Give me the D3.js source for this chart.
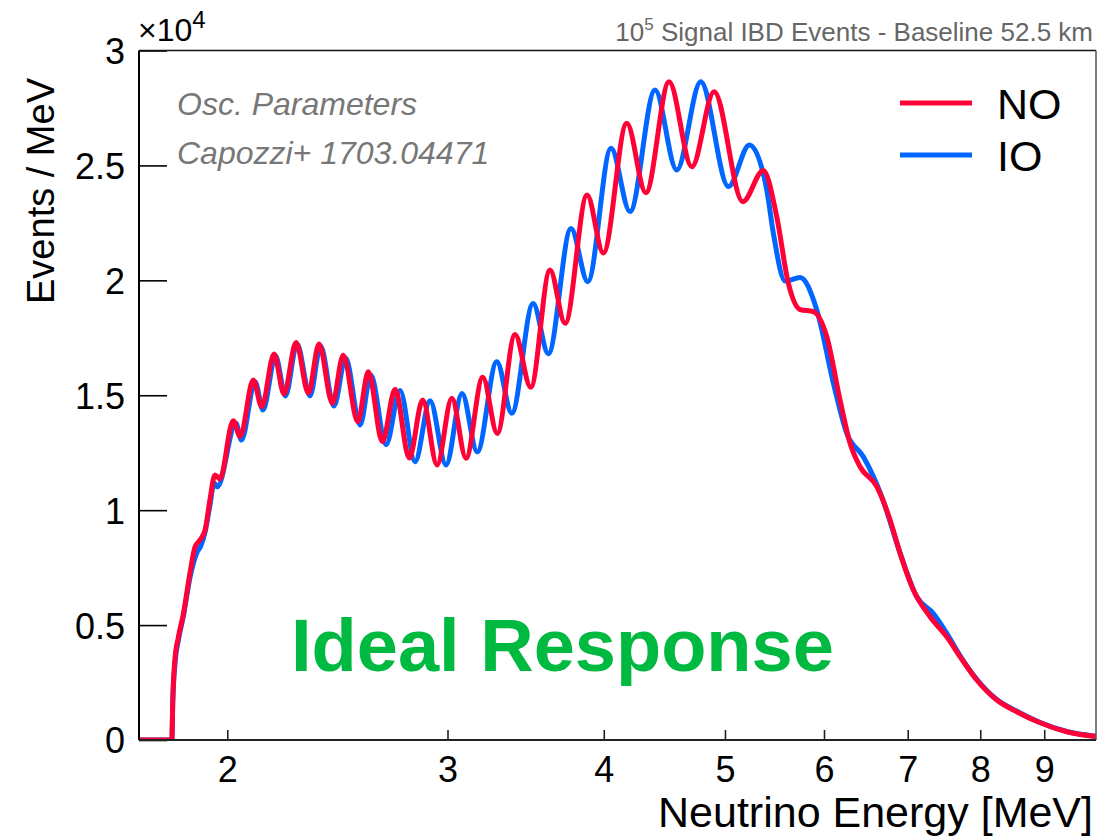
<!DOCTYPE html>
<html>
<head>
<meta charset="utf-8">
<script src="https://cdn.jsdelivr.net/npm/d3@7"></script>
<style>
  html, body { margin: 0; padding: 0; background: #fff; }
  svg { display: block; }
  text { font-family: "Liberation Sans", Arial, Helvetica, sans-serif; }
</style>
</head>
<body>
<svg id="chart" width="1101" height="839"></svg>
<script>
// ---------------- DATA ----------------
// Neutrino energy [MeV] and events per MeV in units of 10^4
const no_energy = [1.70,1.806,1.809,1.816,1.828,1.845,1.867,1.885,1.902,1.920,1.937,1.955,1.973,
  2.022,2.048,2.098,2.131,2.180,2.220,2.270,2.322,2.368,2.427,2.476,2.543,2.593,2.661,2.724,2.796,
  2.866,2.943,3.024,3.104,3.201,3.288,3.397,3.497,3.623,3.725,3.879,3.997,4.173,4.322,4.511,4.704,
  4.901,5.167,5.366,5.500,5.619,5.742,5.884,6.031,6.180,6.295,6.412,6.613,6.776,6.902,7.073,7.294,
  7.522,7.709,7.949,8.247,8.557,8.932,9.382,9.90];
const no_events = [0,0,0.17,0.348,0.449,0.551,0.725,0.841,0.870,0.914,1.044,1.153,1.136,
  1.389,1.320,1.566,1.450,1.680,1.505,1.729,1.509,1.723,1.465,1.674,1.385,1.602,1.298,1.526,1.227,
  1.479,1.197,1.487,1.226,1.578,1.334,1.764,1.535,2.045,1.813,2.371,2.119,2.683,2.381,2.864,2.494,
  2.821,2.342,2.478,2.277,1.987,1.873,1.864,1.755,1.479,1.291,1.189,1.102,0.957,0.812,0.653,0.536,
  0.449,0.362,0.261,0.174,0.123,0.075,0.036,0.015];

const io_energy = [1.70,1.806,1.809,1.817,1.828,1.845,1.867,1.891,1.905,1.920,1.937,1.952,1.964,
  2.032,2.053,2.105,2.136,2.186,2.226,2.274,2.329,2.375,2.434,2.487,2.554,2.605,2.679,2.749,2.826,
  2.905,2.992,3.081,3.169,3.285,3.377,3.512,3.612,3.766,3.884,4.054,4.198,4.396,4.575,4.782,5.032,
  5.230,5.400,5.466,5.585,5.742,5.921,6.105,6.257,6.451,6.674,6.902,7.118,7.339,7.522,7.709,7.949,
  8.247,8.557,8.932,9.382,9.90];
const io_events = [0,0,0.16,0.34,0.435,0.54,0.705,0.814,0.845,0.905,1.02,1.118,1.102,
  1.378,1.305,1.559,1.436,1.671,1.497,1.723,1.497,1.714,1.453,1.662,1.371,1.588,1.285,1.521,1.211,
  1.476,1.197,1.508,1.254,1.646,1.422,1.899,1.681,2.226,1.994,2.575,2.299,2.828,2.480,2.864,2.408,
  2.589,2.393,2.205,1.997,2.012,1.871,1.552,1.334,1.232,1.058,0.814,0.623,0.550,0.464,0.366,0.264,
  0.176,0.125,0.076,0.037,0.016];

const xTicks = [2, 3, 4, 5, 6, 7, 8, 9];
const yTicks = [0, 0.5, 1, 1.5, 2, 2.5, 3];
const seriesNames = ["NO", "IO"];
const seriesColors = ["#ff0037", "#0066ff"];

// ---------------- LAYOUT ----------------
const L = 139, R = 1096, T = 50.5, B = 740;
const svg = d3.select("#chart");

const x = d3.scaleLog().domain([1.7, 9.9]).range([L, R]);
const y = d3.scaleLinear().domain([0, 3]).range([B, T]);

// clip
svg.append("defs").append("clipPath").attr("id", "clip")
  .append("rect").attr("x", L).attr("y", T - 5).attr("width", R - L).attr("height", B - T + 5);

// axes
const xAxis = d3.axisBottom(x).tickValues(xTicks).tickFormat(d3.format("d"))
  .tickSizeInner(-10).tickSizeOuter(0).tickPadding(16);
const gx = svg.append("g").attr("transform", `translate(0,${B})`).call(xAxis);
gx.select(".domain").remove();
gx.selectAll(".tick line").attr("stroke", "#222").attr("stroke-width", 1.6);
gx.selectAll(".tick text").attr("font-size", 36).attr("fill", "#000")
  .style("font-family", '"Liberation Sans", Arial, sans-serif');

const yAxis = d3.axisLeft(y).tickValues(yTicks).tickFormat(d => String(d))
  .tickSizeInner(-28).tickSizeOuter(0).tickPadding(14);
const gy = svg.append("g").attr("transform", `translate(${L},0)`).call(yAxis);
gy.select(".domain").remove();
gy.selectAll(".tick line").attr("stroke", "#000").attr("stroke-width", 1.6);
gy.selectAll(".tick text").attr("font-size", 36).attr("fill", "#000").attr("dy", "0.36em")
  .style("font-family", '"Liberation Sans", Arial, sans-serif');

// curves
const line = d3.line().x(d => x(d[0])).y(d => y(d[1])).curve(d3.curveMonotoneX);
const ioData = io_energy.map((e, i) => [e, io_events[i]]);
const noData = no_energy.map((e, i) => [e, no_events[i]]);
const gc = svg.append("g").attr("clip-path", "url(#clip)");
gc.append("path").datum(ioData).attr("d", line).attr("fill", "none")
  .attr("stroke", seriesColors[1]).attr("stroke-width", 5).attr("stroke-linejoin", "round");
gc.append("path").datum(noData).attr("d", line).attr("fill", "none")
  .attr("stroke", seriesColors[0]).attr("stroke-width", 5).attr("stroke-linejoin", "round");

// frame
svg.append("line").attr("x1", L).attr("x2", R).attr("y1", T).attr("y2", T).attr("stroke", "#111").attr("stroke-width", 1.5);
svg.append("line").attr("x1", R).attr("x2", R).attr("y1", T).attr("y2", B).attr("stroke", "#555").attr("stroke-width", 1.5);
svg.append("line").attr("x1", L).attr("x2", R).attr("y1", B).attr("y2", B).attr("stroke", "#222").attr("stroke-width", 2);
svg.append("line").attr("x1", L).attr("x2", L).attr("y1", T).attr("y2", B).attr("stroke", "#000").attr("stroke-width", 2);

// axis titles
svg.append("text").attr("x", 1093).attr("y", 827).attr("text-anchor", "end")
  .attr("font-size", 43).text("Neutrino Energy [MeV]");
svg.append("text").attr("transform", "translate(54,78) rotate(-90)").attr("text-anchor", "end")
  .attr("font-size", 38).text("Events / MeV");

// exponent
const ex = svg.append("text").attr("x", 138).attr("y", 41).attr("font-size", 32);
ex.append("tspan").text("×10");
ex.append("tspan").attr("font-size", 24).attr("dy", -13).text("4");

// top right label
const tr = svg.append("text").attr("x", 1093).attr("y", 41).attr("text-anchor", "end")
  .attr("font-size", 26).attr("fill", "#666");
tr.append("tspan").text("10");
tr.append("tspan").attr("font-size", 17).attr("dy", -11).text("5");
tr.append("tspan").attr("dy", 11).text(" Signal IBD Events - Baseline 52.5 km");

// osc params
svg.append("text").attr("x", 177).attr("y", 115).attr("font-size", 32).attr("font-style", "italic")
  .attr("fill", "#777").text("Osc. Parameters");
svg.append("text").attr("x", 177).attr("y", 164).attr("font-size", 32).attr("font-style", "italic")
  .attr("fill", "#777").text("Capozzi+ 1703.04471");

// legend
const legY = [103, 155];
seriesNames.forEach((n, i) => {
  svg.append("line").attr("x1", 900).attr("x2", 972).attr("y1", legY[i]).attr("y2", legY[i])
    .attr("stroke", seriesColors[i]).attr("stroke-width", 5);
  svg.append("text").attr("x", 997).attr("y", legY[i] + 16).attr("font-size", 43).text(n);
});

// ideal response
svg.append("text").attr("x", 291).attr("y", 671).attr("font-size", 74).attr("font-weight", "bold")
  .attr("fill", "#00b940").text("Ideal Response");
</script>
</body>
</html>
